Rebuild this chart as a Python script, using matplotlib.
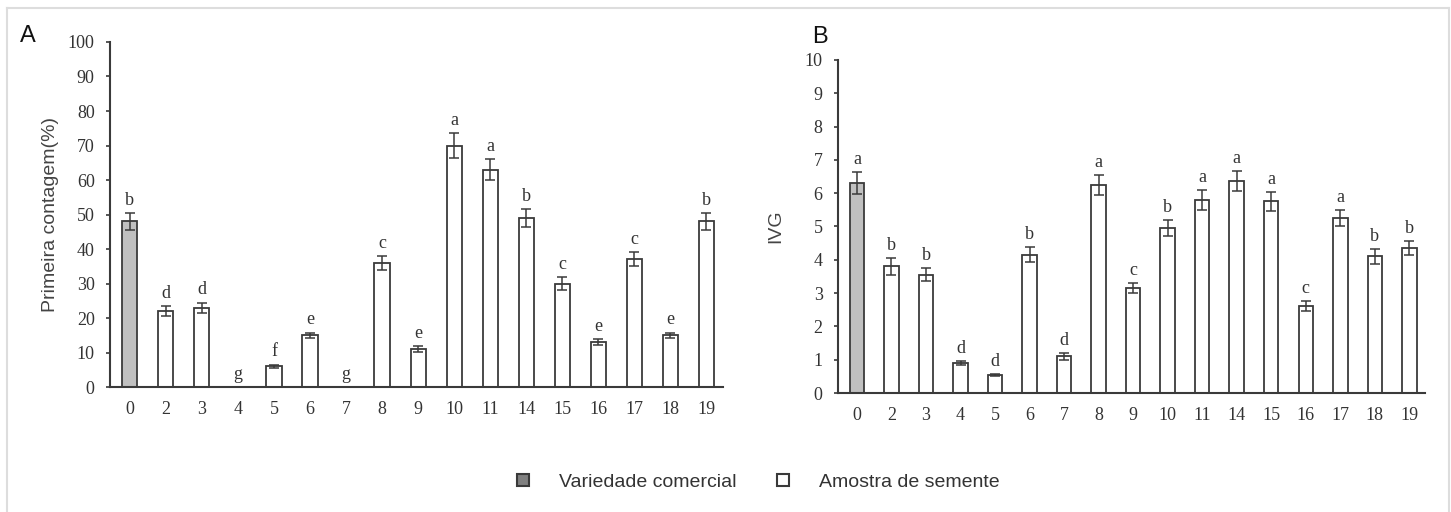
import matplotlib
matplotlib.use("Agg")
import matplotlib.pyplot as plt
from matplotlib.lines import Line2D
import numpy as np

# ============================
# Data
# ============================
samples = ["0", "2", "3", "4", "5", "6", "7", "8", "9", "10", "11", "14", "15", "16", "17", "18", "19"]

first_count = [48, 22, 23, 0, 6, 15, 0, 36, 11, 70, 63, 49, 30, 13, 37, 15, 48]
first_count_err = [2.5, 1.5, 1.5, 0, 0.5, 0.8, 0, 2.0, 0.8, 3.5, 3.0, 2.5, 1.8, 0.8, 2.0, 0.8, 2.5]
first_count_letters = ["b", "d", "d", "g", "f", "e", "g", "c", "e", "a", "a", "b", "c", "e", "c", "e", "b"]

ivg = [6.3, 3.8, 3.55, 0.9, 0.55, 4.15, 1.1, 6.25, 3.15, 4.95, 5.8, 6.35, 5.75, 2.6, 5.25, 4.1, 4.35]
ivg_err = [0.33, 0.25, 0.2, 0.05, 0.03, 0.22, 0.1, 0.3, 0.15, 0.25, 0.3, 0.3, 0.28, 0.15, 0.25, 0.22, 0.2]
ivg_letters = ["a", "b", "b", "d", "d", "b", "d", "a", "c", "b", "a", "a", "a", "c", "a", "b", "b"]

legend_labels = ["Variedade comercial", "Amostra de semente"]

# ============================
# Style
# ============================
EDGE = "#3a3a3a"
GREY_FILL = "#c0c0c0"
SERIF = "Liberation Serif"
SANS = "Liberation Sans"


def draw_panel(ax, values, errs, letters, ymax, ystep, ylabel):
    x = np.arange(len(samples))
    colors = [GREY_FILL] + ["white"] * (len(samples) - 1)
    ax.bar(x, values, width=0.42, color=colors, edgecolor=EDGE, linewidth=1.3, zorder=2)
    for xi, v, e in zip(x, values, errs):
        if e > 0:
            ax.errorbar(xi, v, yerr=e, fmt="none", ecolor=EDGE, elinewidth=1.1,
                        capsize=3.5, capthick=1.1, zorder=3)
    for xi, v, e, lt in zip(x, values, errs, letters):
        ax.annotate(lt, (xi, v + e), xytext=(0, 3), textcoords="offset points",
                    ha="center", va="bottom", fontsize=13, family=SERIF, color="#333333")
    ax.set_xlim(-0.55, len(samples) - 1 + 0.45)
    ax.set_ylim(0, ymax)
    ax.set_yticks(np.arange(0, ymax + ystep / 2, ystep))
    ax.set_xticks(x)
    ax.set_xticklabels(samples)
    for s in ["top", "right"]:
        ax.spines[s].set_visible(False)
    for s in ["left", "bottom"]:
        ax.spines[s].set_linewidth(1.5)
        ax.spines[s].set_color(EDGE)
    ax.tick_params(axis="y", direction="out", length=3, width=1.2, color=EDGE, pad=8)
    ax.tick_params(axis="x", length=0, pad=10)
    for lab in ax.get_xticklabels() + ax.get_yticklabels():
        lab.set_fontfamily(SERIF)
        lab.set_fontsize(13)
        lab.set_color("#333333")
    ax.set_ylabel(ylabel, fontsize=14, family=SANS, color="#444444")


fig = plt.figure(figsize=(14.51, 5.12), dpi=100)

ax_a = fig.add_axes([0.0758, 0.244, 0.4222, 0.674])
ax_b = fig.add_axes([0.5775, 0.2324, 0.4045, 0.6506])

draw_panel(ax_a, first_count, first_count_err, first_count_letters, 100, 10, "Primeira contagem(%)")
draw_panel(ax_b, ivg, ivg_err, ivg_letters, 10, 1, "IVG")
ax_a.yaxis.set_label_coords(-0.083, 0.5)
ax_b.yaxis.set_label_coords(-0.091, 0.5)

fig.text(20 / 1451, 1 - 42 / 512, "A", fontsize=17, family=SANS, color="#111111")
fig.text(812 / 1451, 1 - 43 / 512, "B", fontsize=17, family=SANS, color="#111111")

# legend
handles = [
    Line2D([], [], linestyle="none", marker="s", markersize=8, markerfacecolor="#808080",
           markeredgecolor=EDGE, markeredgewidth=1.5),
    Line2D([], [], linestyle="none", marker="s", markersize=8, markerfacecolor="white",
           markeredgecolor=EDGE, markeredgewidth=1.5),
]
leg = fig.legend(handles, legend_labels, loc="center", bbox_to_anchor=(0.518, 0.059),
                 ncol=2, frameon=False, handletextpad=0.85, columnspacing=1.4,
                 prop={"family": SANS, "size": 14})
for t in leg.get_texts():
    t.set_color("#333333")

# light frame around the figure
frame_kw = dict(color="#dddddd", linewidth=1.5, transform=fig.transFigure)
fig.add_artist(Line2D([7 / 1451, 1449 / 1451], [1 - 8 / 512, 1 - 8 / 512], **frame_kw))
fig.add_artist(Line2D([7 / 1451, 7 / 1451], [0, 1 - 8 / 512], **frame_kw))
fig.add_artist(Line2D([1449 / 1451, 1449 / 1451], [0, 1 - 8 / 512], **frame_kw))

fig.savefig("out.png", dpi=100)
